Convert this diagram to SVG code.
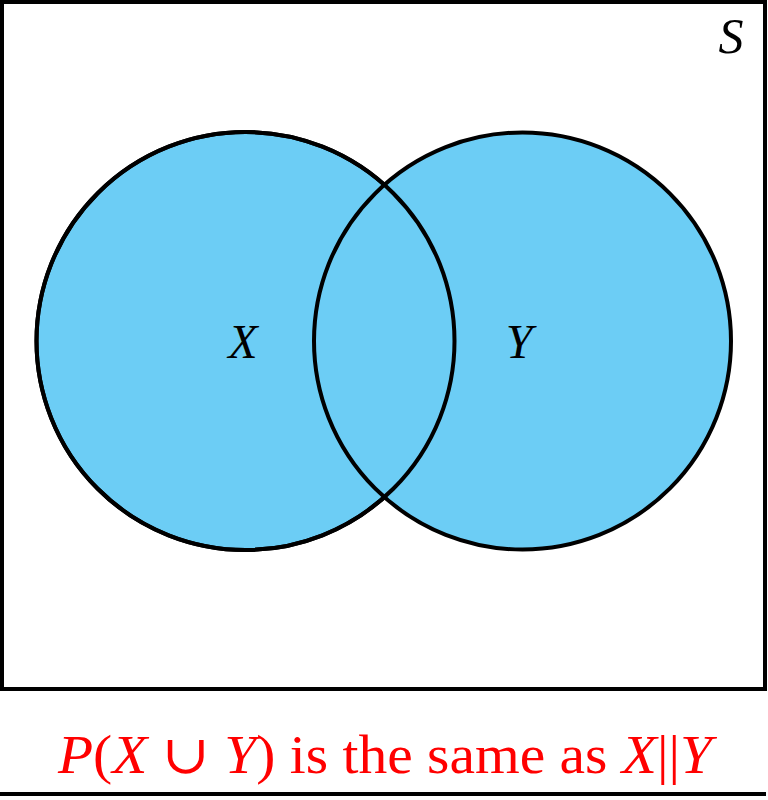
<svg xmlns="http://www.w3.org/2000/svg" width="768" height="800" viewBox="0 0 768 800">
<style>
.c{fill:#6ccdf5;stroke:#000;stroke-width:4}
.m{font-family:"Liberation Serif","DejaVu Serif",serif;font-style:italic}
.r{font-family:"Liberation Serif","DejaVu Serif",serif}
</style>
<rect x="0" y="0" width="768" height="800" fill="#fff"/>
<g id="S">
<rect x="2" y="2" width="763" height="687" fill="#fff" stroke="#000" stroke-width="4"/>
<text class="m" x="731" y="53" font-size="50" text-anchor="middle">S</text>
</g>
<g id="X">
<circle class="c" cx="245.5" cy="341" r="209"/>
</g>
<g id="Y">
<circle class="c" cx="522.5" cy="341" r="208.5"/>
</g>
<g id="outlines" fill="none" stroke="#000" stroke-width="4">
<circle cx="245.5" cy="341" r="209"/>
</g>
<text class="m" x="243" y="358" font-size="48" text-anchor="middle">X</text>
<text class="m" x="519" y="358" font-size="48" text-anchor="middle">Y</text>
<g id="caption">
<text class="r" x="58" y="773" font-size="54" fill="#ff0000" textLength="654" lengthAdjust="spacingAndGlyphs"><tspan class="m">P</tspan>(<tspan class="m">X</tspan> ∪ <tspan class="m">Y</tspan>) is the same as <tspan class="m">X</tspan>||<tspan class="m">Y</tspan></text>
<line x1="0" y1="794" x2="766" y2="794" stroke="#000" stroke-width="4"/>
</g>
</svg>
